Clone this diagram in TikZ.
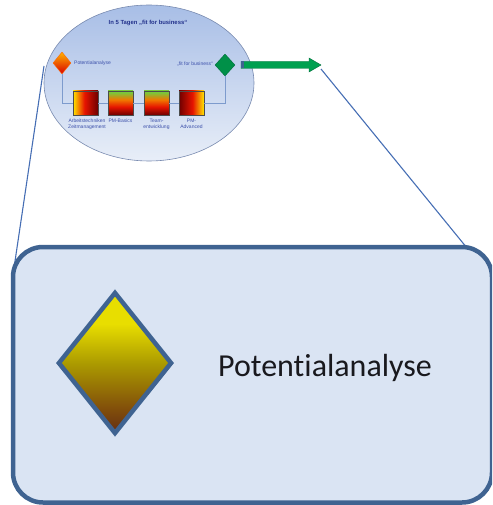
\documentclass[tikz,border=0pt]{standalone}
\usepackage{fontspec}
\setmainfont{Liberation Sans}
\newfontfamily\calib[Ligatures=NoCommon]{Carlito}
\usetikzlibrary{shapes.geometric,arrows.meta,shadings}
\definecolor{boxline}{RGB}{63,99,145}
\definecolor{boxfill}{RGB}{218,228,243}
\definecolor{zoomline}{RGB}{70,110,180}
\definecolor{elltop}{RGB}{168,190,230}
\definecolor{ellbot}{RGB}{232,238,248}
\definecolor{ellline}{RGB}{120,138,175}
\definecolor{flow}{RGB}{125,155,205}
\definecolor{smalltxt}{RGB}{60,80,170}
\definecolor{titletxt}{RGB}{35,50,140}
\definecolor{dkred}{RGB}{110,0,0}
\definecolor{ltgrn}{RGB}{120,200,60}
\definecolor{grn}{RGB}{0,160,80}
\definecolor{dkgrn}{RGB}{0,110,60}
\definecolor{dyel}{RGB}{232,222,0}
\definecolor{dolive}{RGB}{172,155,0}
\definecolor{dbrn}{RGB}{130,80,10}
\definecolor{dbrown}{RGB}{100,45,20}
\definecolor{sqred}{RGB}{230,20,0}
\definecolor{sqyel}{RGB}{255,230,0}
\definecolor{sqorg}{RGB}{240,120,0}
\pgfdeclarehorizontalshading{sqlr}{100bp}{color(0bp)=(sqyel); color(25bp)=(sqyel); color(48bp)=(sqred); color(75bp)=(dkred); color(100bp)=(dkred)}
\pgfdeclarehorizontalshading{sqrl}{100bp}{color(0bp)=(dkred); color(25bp)=(dkred); color(52bp)=(sqred); color(75bp)=(sqyel); color(100bp)=(sqyel)}
\pgfdeclareverticalshading{sqtb}{100bp}{color(0bp)=(dkred); color(25bp)=(dkred); color(42bp)=(sqred); color(57bp)=(sqorg); color(72bp)=(ltgrn); color(100bp)=(ltgrn)}
\pgfdeclareverticalshading{bigdia}{100bp}{color(0bp)=(dbrown); color(25bp)=(dbrown); color(34bp)=(dbrn); color(50bp)=(dolive); color(64bp)=(dyel); color(100bp)=(dyel)}
\tikzset{
  tinytxt/.style={font=\fontsize{5}{5.8}\selectfont, text=smalltxt, align=center, inner sep=0pt},
  sqbox/.style={draw=black!70, line width=0.4pt, minimum width=25pt, minimum height=24pt, inner sep=0pt},
  hgrad/.style={sqbox, shading=sqlr},
  hgradr/.style={sqbox, shading=sqrl},
  vgrad/.style={sqbox, shading=sqtb},
  flowline/.style={draw=flow, line width=0.6pt},
}
\begin{document}
\begin{tikzpicture}[x=1pt,y=-1pt]
\useasboundingbox (0,0) rectangle (492,505);
\clip (0,0) rectangle (492,505);
% ellipse
\node[ellipse, draw=ellline, line width=0.6pt, top color=elltop, bottom color=ellbot,
      minimum width=210pt, minimum height=156pt, inner sep=0pt] (ell) at (149,83) {};
\node[font=\bfseries\fontsize{5.9}{6.5}\selectfont, text=titletxt, inner sep=0pt] (title) at (148,23) {In 5 Tagen „fit for business“};
% diamonds
\node[diamond, minimum width=18pt, minimum height=22pt, inner sep=0pt, draw=orange!80!red, line width=0.4pt,
      top color=orange!60!yellow, bottom color=red!85!black] (ldia) at (62,63) {};
\node[diamond, minimum width=20pt, minimum height=22pt, inner sep=0pt, draw=dkgrn, line width=0.4pt,
      fill=grn!90!black] (rdia) at (225,65) {};
\node[tinytxt, anchor=west] (lpot) at (74,63) {Potentialanalyse};
\node[tinytxt, anchor=east] (lfit) at (213,64) {„fit for business“};
% squares
\node[hgrad] (sq1) at (85.5,103) {};
\node[vgrad] (sq2) at (120.5,103) {};
\node[vgrad] (sq3) at (156.5,103) {};
\node[hgradr] (sq4) at (191.5,103) {};
% flow lines
\draw[flowline] (ldia.south) |- (sq1.west);
\draw[flowline] (sq1.east) -- (sq2.west);
\draw[flowline] (sq2.east) -- (sq3.west);
\draw[flowline] (sq3.east) -- (sq4.west);
\draw[flowline] (sq4.east) -| (rdia.south);
% labels
\node[tinytxt, anchor=north] (l1) at (87,119) {Arbeitstechniken\\Zeitmanagement};
\node[tinytxt, anchor=north] (l2) at (120.5,119) {PM-Basics};
\node[tinytxt, anchor=north] (l3) at (156.5,119) {Team-\\entwicklung};
\node[tinytxt, anchor=north] (l4) at (191.5,119) {PM-\\Advanced};
% green arrow
\coordinate (atail) at (241,65);
\coordinate (atip) at (321,65);
\fill[grn, draw=dkgrn, line width=0.4pt] (241,61.5) -- (309,61.5) -- (309,58) -- (atip) -- (309,72) -- (309,68.5) -- (241,68.5) -- cycle;
\fill[boxline] (240.5,61.5) rectangle (243.5,68.5);
% zoom lines
\coordinate (zl) at (44,66);
\coordinate (zr) at (321,69);
\coordinate (bl) at (14,268);
\coordinate (br) at (467,248);
\draw[zoomline, line width=1.1pt] (zl) -- (bl);
\draw[zoomline, line width=1.1pt] (zr) -- (br);
% big box
\draw[boxline, line width=4.5pt, fill=boxfill, rounded corners=30pt] (13,247) rectangle (492,502.5);
\node[draw=boxline, line width=4.5pt, diamond, minimum width=114pt, minimum height=142pt, inner sep=0pt,
      shading=bigdia] (bdia) at (115,363) {};
\node[font=\calib\fontsize{32}{36}\selectfont, text={rgb,255:red,25;green,25;blue,30}, inner sep=0pt] (bpot) at (325,368) {Potentialanalyse};
\end{tikzpicture}
\end{document}
